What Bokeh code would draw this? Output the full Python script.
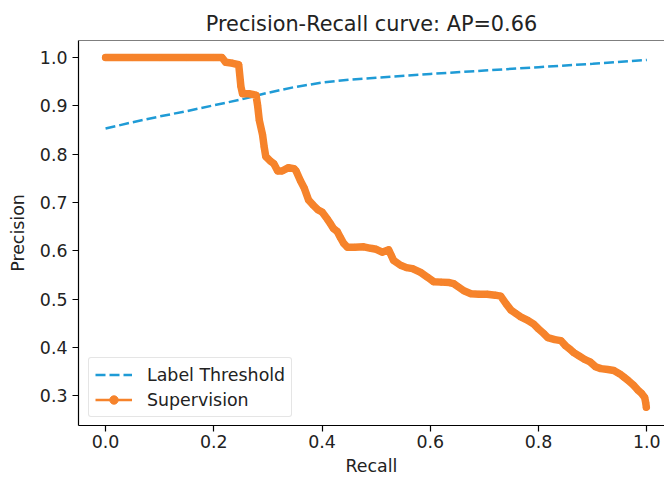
from bokeh.plotting import figure
from bokeh.models import Range1d, Span, Legend, LegendItem, FixedTicker, Title
from bokeh.embed import file_html
from bokeh.resources import INLINE

# ---- data ----
thr_recall = [0.0, 0.05, 0.1, 0.15, 0.2, 0.25, 0.3, 0.35, 0.4, 0.45, 0.5,
              0.6, 0.7, 0.8, 0.9, 1.0]
thr_precision = [0.853, 0.866, 0.878, 0.889, 0.901, 0.913, 0.927, 0.939, 0.948,
                 0.954, 0.958, 0.966, 0.973, 0.980, 0.987, 0.995]

sup_recall = [0.0, 0.05, 0.1, 0.15, 0.2, 0.215, 0.222, 0.235, 0.246, 0.25, 0.253,
              0.265, 0.278, 0.281, 0.284, 0.29, 0.293, 0.296, 0.305, 0.311, 0.318,
              0.326, 0.338, 0.348, 0.352, 0.36, 0.367, 0.375, 0.383, 0.392, 0.40,
              0.41, 0.416, 0.421, 0.428, 0.434, 0.44, 0.447, 0.46, 0.477, 0.49,
              0.5, 0.511, 0.523, 0.528, 0.532, 0.545, 0.556, 0.567, 0.582, 0.595,
              0.606, 0.62, 0.635, 0.643, 0.652, 0.662, 0.675, 0.69, 0.705, 0.72,
              0.73, 0.74, 0.749, 0.758, 0.767, 0.78, 0.791, 0.8, 0.81, 0.817,
              0.83, 0.841, 0.85, 0.858, 0.865, 0.875, 0.885, 0.895, 0.905, 0.915,
              0.928, 0.939, 0.95, 0.958, 0.965, 0.975, 0.983, 0.99, 0.996, 0.998,
              0.999]
sup_precision = [1.0, 1.0, 1.0, 1.0, 1.0, 1.0, 0.99, 0.988, 0.985, 0.94, 0.925,
                 0.925, 0.922, 0.90, 0.87, 0.84, 0.815, 0.795, 0.785, 0.78, 0.765,
                 0.765, 0.772, 0.77, 0.765, 0.745, 0.73, 0.705, 0.695, 0.685, 0.68,
                 0.665, 0.655, 0.646, 0.64, 0.627, 0.615, 0.607, 0.607, 0.608, 0.605,
                 0.603, 0.597, 0.602, 0.59, 0.58, 0.57, 0.565, 0.563, 0.555, 0.545,
                 0.536, 0.535, 0.534, 0.532, 0.525, 0.517, 0.511, 0.51, 0.51, 0.508,
                 0.506, 0.49, 0.477, 0.47, 0.463, 0.456, 0.448, 0.438, 0.428, 0.42,
                 0.416, 0.414, 0.403, 0.396, 0.389, 0.382, 0.375, 0.37, 0.36, 0.356,
                 0.354, 0.352, 0.345, 0.338, 0.332, 0.322, 0.312, 0.305, 0.296, 0.285,
                 0.276]

x_ticks = [0.0, 0.2, 0.4, 0.6, 0.8, 1.0]
y_ticks = [0.3, 0.4, 0.5, 0.6, 0.7, 0.8, 0.9, 1.0]

title_text = "Precision-Recall curve: AP=0.66"
BLUE = "#1f9bd6"
ORANGE = "#f6832b"
FONT = "DejaVu Sans"
TXT = "#222222"
LBL = "17.4px"

p = figure(width=664, height=481, output_backend="svg", toolbar_location=None,
           x_range=Range1d(-0.05, 1.0326), y_range=Range1d(0.2382, 1.0352),
           min_border_left=78, min_border_right=0, min_border_top=40,
           min_border_bottom=56)
p.title = Title(text=title_text, align="center", text_font=FONT,
                text_font_size="20.8px", text_font_style="normal",
                text_color=TXT, standoff=9)
p.outline_line_color = None
p.grid.visible = False
p.background_fill_color = "white"
p.border_fill_color = "white"

p.add_layout(Span(location=1.0352, dimension="width", line_color="black",
                  line_width=1.2))

for ax in (p.xaxis[0], p.yaxis[0]):
    ax.axis_line_color = "black"
    ax.axis_line_width = 1.2
    ax.major_tick_line_color = "black"
    ax.major_tick_line_width = 1.2
    ax.major_tick_out = 6
    ax.major_tick_in = 0
    ax.minor_tick_line_color = None
    ax.major_label_text_font = FONT
    ax.major_label_text_font_size = LBL
    ax.major_label_text_color = TXT
    ax.axis_label_text_font = FONT
    ax.axis_label_text_font_size = LBL
    ax.axis_label_text_font_style = "normal"
    ax.axis_label_text_color = TXT

p.xaxis.ticker = FixedTicker(ticks=x_ticks)
p.yaxis.ticker = FixedTicker(ticks=y_ticks)
p.xaxis.major_label_overrides = {t: f"{t:.1f}" for t in x_ticks}
p.yaxis.major_label_overrides = {t: f"{t:.1f}" for t in y_ticks}
p.xaxis.axis_label = "Recall"
p.yaxis.axis_label = "Precision"
p.xaxis.major_label_standoff = 3
p.yaxis.major_label_standoff = 5
p.xaxis.axis_label_standoff = 5
p.yaxis.axis_label_standoff = 9

# blue dashed
thr = p.line(thr_recall, thr_precision, line_color=BLUE, line_width=2.5,
             line_dash="10 4")

# orange thick band (dense markers look)
p.line(sup_recall, sup_precision, line_color=ORANGE, line_width=7.5,
       line_join="round", line_cap="round")
sup_line = p.line(sup_recall, sup_precision, line_color=ORANGE, line_width=2.5)
sup_pts = p.scatter(sup_recall, sup_precision, size=6, marker="circle",
                    fill_color=ORANGE, line_color=ORANGE)

legend = Legend(items=[LegendItem(label="Label Threshold", renderers=[thr]),
                       LegendItem(label="Supervision", renderers=[sup_line, sup_pts])],
                location=(10, 8))
legend.label_text_font = FONT
legend.label_text_font_size = LBL
legend.label_text_color = TXT
legend.glyph_width = 37
legend.glyph_height = 21
legend.label_height = 21
legend.label_standoff = 15
legend.spacing = 4
legend.padding = 6
legend.margin = 0
legend.border_line_color = "#cccccc"
legend.border_line_width = 1
legend.background_fill_alpha = 0.85
legend.border_radius = 3
p.add_layout(legend, "center")

open("out.html", "w").write(file_html(p, INLINE))
